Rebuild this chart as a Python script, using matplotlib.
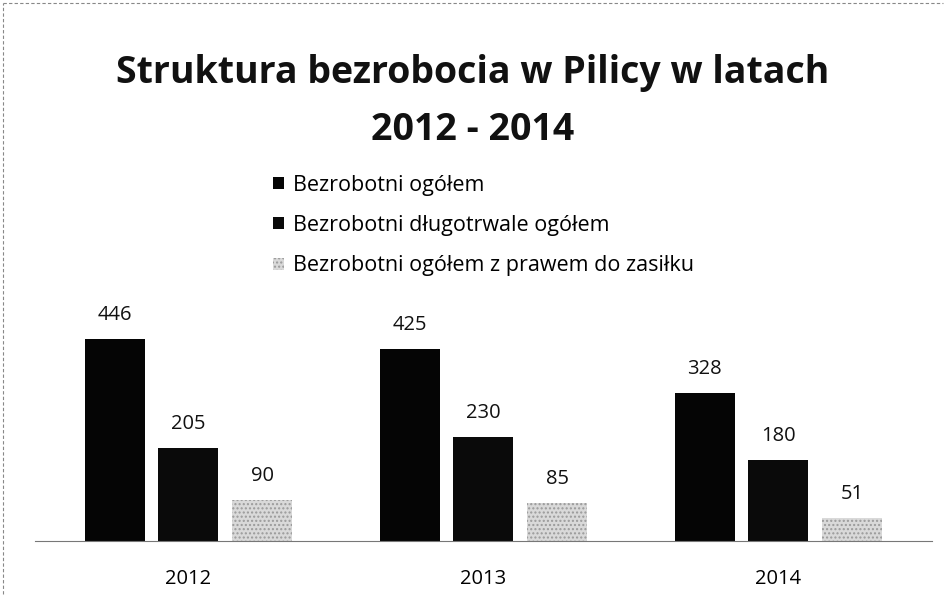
import numpy as np
from matplotlib import pyplot as plt
from matplotlib.lines import Line2D

# dane z wykresu
lata = ['2012', '2013', '2014']
ogolem = [446, 425, 328]
dlugotrwale = [205, 230, 180]
z_zasilkiem = [90, 85, 51]
serie = ['Bezrobotni ogółem', 'Bezrobotni długotrwale ogółem',
         'Bezrobotni ogółem z prawem do zasiłku']

plt.rcParams['font.family'] = ['Open Sans', 'DejaVu Sans']
plt.rcParams['hatch.color'] = '#8a8a8a'

fig = plt.figure(figsize=(9.46, 5.97), dpi=100)
ax = fig.add_axes([0.037, 0.0938, 0.948, 0.3786])

x = np.arange(len(lata))
w = 0.203
kolory = ['#050505', '#0a0a0a', '#d9d9d9']
bars = []
for i, (vals, kol) in enumerate(zip([ogolem, dlugotrwale, z_zasilkiem], kolory)):
    hatch = '....' if i == 2 else None
    b = ax.bar(x + (i - 1) * 0.25, vals, w, color=kol, edgecolor='#9a9a9a' if i == 2 else kol,
               linewidth=0, hatch=hatch, label=serie[i])
    bars.append(b)
    for xi, v in zip(x + (i - 1) * 0.25, vals):
        ax.annotate(str(v), (xi, v), xytext=(0, 10), textcoords='offset points',
                    ha='center', va='bottom', fontsize=14.5, color='#111111')

ax.set_xlim(-0.52, 2.52)
ax.set_ylim(0, 500)
ax.set_xticks(x)
ax.set_xticklabels(lata, fontsize=14.5)
ax.tick_params(axis='x', length=0, pad=20)
ax.set_yticks([])
for s in ['top', 'left', 'right']:
    ax.spines[s].set_visible(False)
ax.spines['bottom'].set_color('#777777')
ax.spines['bottom'].set_linewidth(0.8)
ax.spines['bottom'].set_linestyle((0, (2, 1)))

fig.text(0.5, 0.83, 'Struktura bezrobocia w Pilicy w latach\n2012 - 2014',
         ha='center', va='center', fontsize=27, fontweight='bold',
         linespacing=1.68, color='#111111')

fig.legend(handles=bars, loc='upper left', bbox_to_anchor=(0.268, 0.74),
           frameon=False, fontsize=15.5, handlelength=0.5, handleheight=0.5,
           handletextpad=0.45, labelspacing=0.9)

# ramka skanu
fig.add_artist(Line2D([0.003, 0.997], [0.995, 0.995], transform=fig.transFigure,
                      color='#888888', lw=0.8, ls=(0, (3, 2))))
fig.add_artist(Line2D([0.003, 0.003], [0.005, 0.995], transform=fig.transFigure,
                      color='#888888', lw=0.8, ls=(0, (3, 2))))

plt.savefig('out.png', dpi=100)
